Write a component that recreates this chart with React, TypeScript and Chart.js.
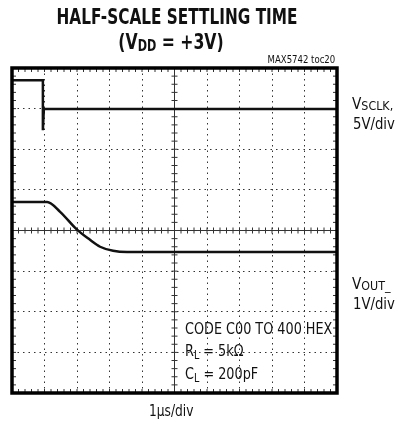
import React, { useEffect, useRef } from "react";
import { Chart, registerables } from "chart.js";

Chart.register(...registerables);

// Oscilloscope screen: 10 horizontal divisions (1µs/div), 8 vertical divisions
const xDivisions = [0, 10];
const yDivisions = [0, 8];

// V_SCLK trace (division units)
const sclkTime = [0, 0.95, 0.95, 0.98, 10];
const sclkLevel = [7.7, 7.7, 6.47, 6.99, 6.99];

// V_OUT trace (division units)
const voutTime = [0, 1.08, 1.48, 2.0, 2.4, 2.71, 3.11, 3.54, 10];
const voutLevel = [4.7, 4.7, 4.46, 4.02, 3.77, 3.6, 3.5, 3.47, 3.47];

const FONT = '"Liberation Sans Narrow", "DejaVu Sans Condensed", "Roboto", sans-serif';

const scopePlugin = {
  id: "scopeDecor",
  beforeDatasetsDraw(chart: any) {
    const { ctx, chartArea: a, scales } = chart;
    const xs = scales.x;
    const ys = scales.y;
    ctx.save();
    ctx.strokeStyle = "#333";
    ctx.lineWidth = 1;
    const cx = xs.getPixelForValue(5);
    const cy = ys.getPixelForValue(4);
    ctx.beginPath();
    ctx.moveTo(cx, a.top);
    ctx.lineTo(cx, a.bottom);
    ctx.moveTo(a.left, cy);
    ctx.lineTo(a.right, cy);
    ctx.stroke();
    ctx.beginPath();
    for (let v = 0; v <= 10.001; v += 0.2) {
      const px = xs.getPixelForValue(v);
      ctx.moveTo(px, cy - 3);
      ctx.lineTo(px, cy + 3);
      ctx.moveTo(px, a.top);
      ctx.lineTo(px, a.top + 4);
      ctx.moveTo(px, a.bottom);
      ctx.lineTo(px, a.bottom - 4);
    }
    for (let v = 0; v <= 8.001; v += 0.2) {
      const py = ys.getPixelForValue(v);
      ctx.moveTo(cx - 3, py);
      ctx.lineTo(cx + 3, py);
      ctx.moveTo(a.left, py);
      ctx.lineTo(a.left + 4, py);
      ctx.moveTo(a.right, py);
      ctx.lineTo(a.right - 4, py);
    }
    ctx.stroke();
    ctx.restore();
  },
  afterDraw(chart: any) {
    const { ctx, chartArea: a } = chart;
    ctx.save();
    ctx.strokeStyle = "#000";
    ctx.lineWidth = 3.5;
    ctx.strokeRect(a.left, a.top, a.right - a.left, a.bottom - a.top);
    ctx.restore();
  },
};

function Label(props: { x: number; base: number; size: number; bold?: boolean; squeeze?: number; align?: "left" | "center" | "right"; children: any }) {
  const { x, base, size, bold, align = "left", squeeze = 0.88, children } = props;
  const style: any = {
    position: "absolute",
    top: base - 0.85 * size,
    fontFamily: FONT,
    fontSize: size,
    lineHeight: `${size}px`,
    fontWeight: bold ? 700 : 400,
    color: "#111",
    whiteSpace: "nowrap",
    transform: `scaleX(${squeeze})`,
  };
  if (align === "left") {
    style.left = x;
    style.transformOrigin = "left center";
  } else if (align === "right") {
    style.right = 401 - x;
    style.transformOrigin = "right center";
  } else {
    style.left = x - 200;
    style.width = 400;
    style.textAlign = "center";
    style.transformOrigin = "center center";
  }
  return <div style={style}>{children}</div>;
}

const sub = (size: number, drop: number) => ({ fontSize: size, position: "relative" as const, top: drop });

export default function App() {
  const ref = useRef<HTMLCanvasElement | null>(null);
  useEffect(() => {
    if (!ref.current) return;
    const chart = new Chart(ref.current, {
      type: "line",
      data: {
        datasets: [
          {
            label: "VSCLK",
            data: sclkTime.map((t, i) => ({ x: t, y: sclkLevel[i] })),
            borderColor: "#111",
            borderWidth: 2.5,
            pointRadius: 0,
            tension: 0,
          },
          {
            label: "VOUT",
            data: voutTime.map((t, i) => ({ x: t, y: voutLevel[i] })),
            borderColor: "#111",
            borderWidth: 2.5,
            pointRadius: 0,
            cubicInterpolationMode: "monotone",
          },
        ],
      },
      options: {
        animation: false,
        responsive: false,
        layout: { padding: { left: 12, top: 68, right: 64, bottom: 39 } },
        plugins: { legend: { display: false }, tooltip: { enabled: false }, title: { display: false } },
        scales: {
          x: {
            type: "linear",
            min: xDivisions[0],
            max: xDivisions[1],
            ticks: { display: false, stepSize: 1 },
            grid: { color: "#333", lineWidth: 1, drawTicks: false },
            border: { display: false, dash: [1.5, 4] },
          },
          y: {
            type: "linear",
            min: yDivisions[0],
            max: yDivisions[1],
            ticks: { display: false, stepSize: 1 },
            grid: { color: "#333", lineWidth: 1, drawTicks: false },
            border: { display: false, dash: [1.5, 4] },
          },
        },
      },
      plugins: [scopePlugin],
    } as any);
    return () => chart.destroy();
  }, []);

  return (
    <div style={{ position: "absolute", left: 0, top: 0, width: 401, height: 432, background: "#fff" }}>
      <canvas ref={ref} width={401} height={432} style={{ position: "absolute", left: 0, top: 0, width: 401, height: 432 }} />
      <Label x={177} base={25} size={21} bold squeeze={0.81} align="center">HALF-SCALE SETTLING TIME</Label>
      <Label x={171} base={50} size={21} bold squeeze={0.83} align="center">
        (V<span style={sub(15, 2)}>DD</span> = +3V)
      </Label>
      <Label x={335} base={63} size={10} squeeze={0.95} align="right">MAX5742 toc20</Label>
      <Label x={352} base={110} size={16} squeeze={0.95}>
        V<span style={sub(13, 1)}>SCLK,</span>
      </Label>
      <Label x={353} base={130} size={16} squeeze={0.92}>5V/div</Label>
      <Label x={352} base={290} size={16} squeeze={0.95}>
        V<span style={sub(13, 1)}>OUT_</span>
      </Label>
      <Label x={353} base={310} size={16} squeeze={0.92}>1V/div</Label>
      <Label x={185} base={335} size={16} squeeze={0.89}>CODE C00 TO 400 HEX</Label>
      <Label x={185} base={357} size={16} squeeze={0.89}>
        R<span style={sub(12, 3)}>L</span> = 5kΩ
      </Label>
      <Label x={185} base={380} size={16} squeeze={0.89}>
        C<span style={sub(12, 3)}>L</span> = 200pF
      </Label>
      <Label x={149} base={417} size={16} squeeze={0.85}>1µs/div</Label>
    </div>
  );
}
